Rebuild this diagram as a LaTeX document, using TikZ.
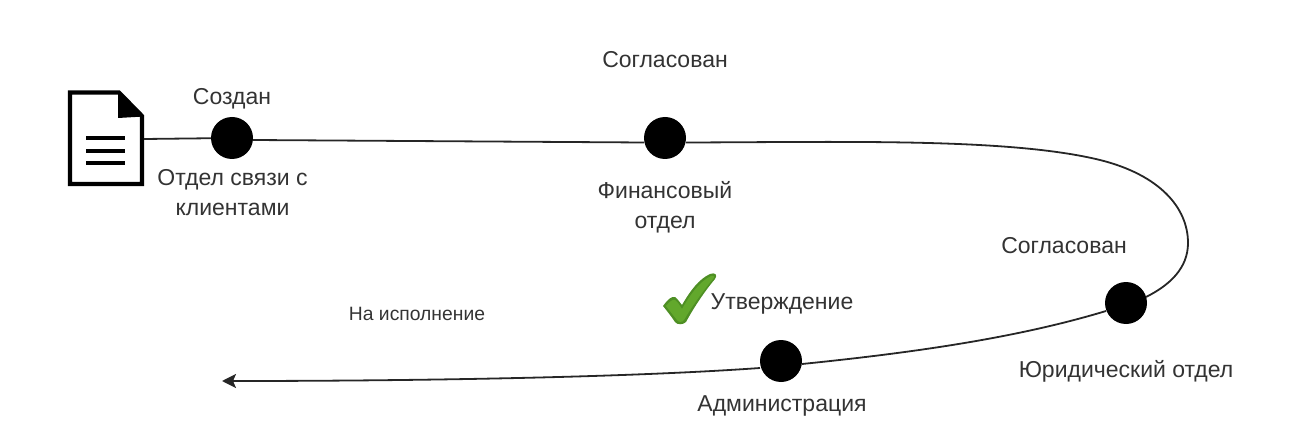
\documentclass[tikz,border=0pt]{standalone}
\usepackage{fontspec}
\setmainfont{Liberation Sans}
\usetikzlibrary{arrows.meta}
\definecolor{labelgray}{HTML}{333333}
\definecolor{checkdark}{HTML}{4E8F24}
\definecolor{checklight}{HTML}{62A82C}
\tikzset{
  stage/.style={circle,fill=black,draw=none,minimum size=42pt,inner sep=0pt},
  lab/.style={text=labelgray,font=\fontsize{23}{30}\selectfont,align=center,inner sep=0pt},
  smalllab/.style={text=labelgray,font=\fontsize{19.3}{22}\selectfont,inner sep=0pt},
  route/.style={draw=black!85,line width=1.8pt},
  docline/.style={line width=4.2pt,draw=black}
}
\begin{document}
\begin{tikzpicture}[x=1pt,y=-1pt]
\useasboundingbox (0,0) rectangle (1303,438);
% document icon
\draw[docline,miter limit=10] (70,92.5) -- (119,92.5) -- (142,116) -- (142,184) -- (70,184) -- cycle;
\fill[black] (118,91) -- (144,116.5) -- (118,118) -- cycle;
\draw[line width=4pt] (86,138) -- (125,138);
\draw[line width=4pt] (86,151) -- (125,151);
\draw[line width=4pt] (86,163) -- (125,163);
\coordinate (docport) at (144,139);
\coordinate (tip) at (222,381);
\node[stage] (c1) at (232,138) {};
\node[stage] (c2) at (665,138) {};
\node[stage] (c3) at (1126,303) {};
\node[stage] (c4) at (781,361) {};
% connectors
\draw[route] (docport) -- (c1);
\draw[route] (c1.east) ++(0,2) -- (644,142.5);
\draw[route] (686,142.5) .. controls (850,142) and (1010,138) .. (1100,160)
  .. controls (1160,175) and (1188,208) .. (1188,243)
  .. controls (1188,268) and (1170,285) .. (1146,297);
\draw[route] (1106,311) .. controls (1020,337) and (920,352) .. (802,364);
\draw[route,-{Stealth[length=14pt,width=14pt,inset=3pt]}] (760,368) .. controls (620,378) and (400,381) .. (tip);
% labels
\node[lab] (l1) at (232,99) {Создан};
\node[lab] (l2) at (232.5,192.5) {Отдел связи с\\клиентами};
\node[lab] (l3) at (665,60) {Согласован};
\node[lab] (l4) at (665,207) {Финансовый\\отдел};
\node[lab] (l5) at (1064,245.5) {Согласован};
\node[lab] (l6) at (1126,371) {Юридический отдел};
\node[lab] (l7) at (782,303.5) {Утверждение};
\node[lab] (l8) at (782,405.5) {Администрация};
\node[smalllab] (l9) at (417,314) {На исполнение};
% check mark
\fill[checkdark] (663,306) .. controls (668,299) and (672,296) .. (675,297)
  .. controls (678,299) and (680,303) .. (682,305)
  .. controls (690,291) and (699,279) .. (710,274)
  .. controls (715,272) and (718,275) .. (715,279)
  .. controls (704,292) and (693,309) .. (686,322)
  .. controls (683,325) and (677,325) .. (675,322)
  .. controls (671,316) and (667,311) .. (663,306) -- cycle;
\fill[checklight] (666,306) .. controls (670,301) and (673,299) .. (675,300)
  .. controls (678,302) and (680,306) .. (682,309)
  .. controls (690,295) and (699,282) .. (711,276)
  .. controls (714,275) and (715,277) .. (713,279)
  .. controls (702,292) and (691,308) .. (684,320)
  .. controls (682,323) and (678,322) .. (677,320)
  .. controls (673,315) and (669,310) .. (666,306) -- cycle;
\end{tikzpicture}
\end{document}
